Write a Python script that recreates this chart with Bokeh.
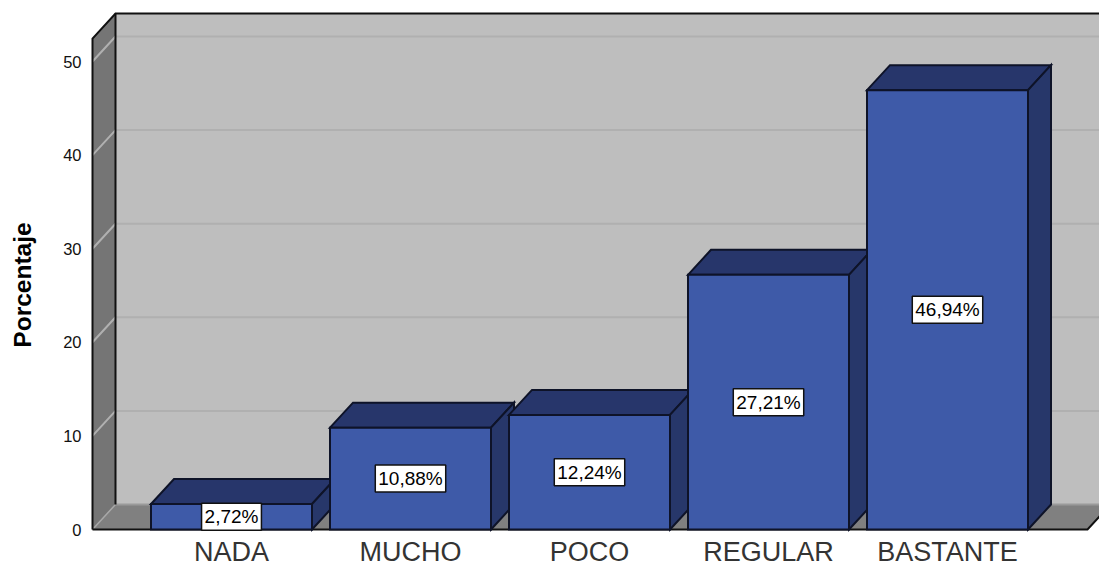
from bokeh.core.properties import value
from bokeh.embed import file_html
from bokeh.models import ColumnDataSource, FixedTicker, Range1d
from bokeh.plotting import figure
from bokeh.resources import INLINE

categories = ["NADA", "MUCHO", "POCO", "REGULAR", "BASTANTE"]
percentages = [2.72, 10.88, 12.24, 27.21, 46.94]
value_labels = ["2,72%", "10,88%", "12,24%", "27,21%", "46,94%"]
y_ticks = [0, 10, 20, 30, 40, 50]

# Scale: pixels per axis unit and the size of the pseudo-3D extrusion
PX_X = 179.0
PX_Y = 9.36
DX = 23 / PX_X
DY = 25 / PX_Y
HALF_BAR = 80.5 / PX_X
WALL_TOP = 52.45

# Layout of the plotting frame in page pixels
W, H = 1099, 565
FRAME_L, FRAME_T = 90, 4
CAT0_PX, ZERO_PX = 231, 529

x_range = Range1d((FRAME_L - CAT0_PX) / PX_X, (W - CAT0_PX) / PX_X)
y_range = Range1d((ZERO_PX - H) / PX_Y, (ZERO_PX - FRAME_T) / PX_Y)

p = figure(width=W, height=H, x_range=x_range, y_range=y_range,
           x_axis_location=None,
           output_backend="svg", toolbar_location=None,
           min_border_left=FRAME_L, min_border_right=0,
           min_border_top=FRAME_T, min_border_bottom=0,
           background_fill_color="white", border_fill_color="white",
           outline_line_color=None)
p.grid.visible = False

p.yaxis.ticker = FixedTicker(ticks=y_ticks)
p.yaxis.axis_line_color = None
p.yaxis.major_tick_line_color = None
p.yaxis.minor_tick_line_color = None
p.yaxis.major_label_standoff = 3
p.yaxis.major_label_text_font = "Liberation Sans"
p.yaxis.major_label_text_font_size = "16.5px"
p.yaxis.major_label_text_color = "#111111"
p.yaxis.axis_label = "Porcentaje"
p.yaxis.axis_label_text_font = "Liberation Sans"
p.yaxis.axis_label_text_font_style = "bold"
p.yaxis.axis_label_text_font_size = "24.5px"
p.yaxis.axis_label_text_color = "#000000"
p.yaxis.axis_label_standoff = 24

x_left = x_range.start + 2 / PX_X
x_right = x_left + (1087 - 92) / PX_X

# Room walls: floor, back wall and left side wall
p.patch([x_left, x_left + DX, x_right + DX, x_right], [0, DY, DY, 0],
        fill_color="#808080", line_color=None)
p.patch([x_left + DX, x_right + DX, x_right + DX, x_left + DX],
        [DY, DY, WALL_TOP + DY, WALL_TOP + DY],
        fill_color="#BEBEBE", line_color=None)
p.patch([x_left, x_left + DX, x_left + DX, x_left],
        [0, DY, WALL_TOP + DY, WALL_TOP],
        fill_color="#757575", line_color=None)

# Gridlines wrap from the side wall onto the back wall
grid = y_ticks[1:]
p.multi_line([[x_left, x_left + DX, x_right + DX] for _ in grid],
             [[v, v + DY, v + DY] for v in grid],
             line_color="#B0B0B0", line_width=2)
p.line([x_left, x_left + DX], [0, DY], line_color="#A8A8A8", line_width=1.5)
p.line([x_left + DX, x_right + DX], [DY, DY], line_color="#9A9A9A", line_width=2)

# Room edges
edge = dict(line_color="#111111", line_width=2, line_join="miter")
p.line([x_left, x_left, x_left + DX, x_right + DX],
       [0, WALL_TOP, WALL_TOP + DY, WALL_TOP + DY], **edge)
p.line([x_left + DX, x_left + DX], [DY, WALL_TOP + DY], **edge)
p.line([x_left, x_right, x_right + DX], [0, 0, DY], **edge)

# Bars: top, side and front faces, left to right so each covers the previous
for i, v in enumerate(percentages):
    l, r = i - HALF_BAR, i + HALF_BAR
    outline = dict(line_color="#0E1328", line_width=2, line_join="miter")
    p.patch([l, l + DX, r + DX, r], [v, v + DY, v + DY, v],
            fill_color="#27366B", **outline)
    p.patch([r, r + DX, r + DX, r], [0, DY, v + DY, v],
            fill_color="#27376A", **outline)
    p.quad(left=[l], right=[r], bottom=[0], top=[v],
           fill_color="#3E5AA8", **outline)

# Value labels in white boxes at the middle of each front face
src = ColumnDataSource(data=dict(
    x=list(range(len(categories))),
    y=[v / 2 for v in percentages],
    label=value_labels,
))
p.text(x="x", y="y", text="label", source=src,
       text_font=value("Liberation Sans"), text_font_size="19px",
       text_color="#000000", text_align="center", text_baseline="middle",
       background_fill_color="white", border_line_color="#111111",
       border_line_width=1.5, padding=3)

# Category names sit under the baseline of the room
cat_src = ColumnDataSource(data=dict(
    x=list(range(len(categories))),
    y=[0] * len(categories),
    label=categories,
))
p.text(x="x", y="y", text="label", source=cat_src, y_offset=22,
       text_font=value("Liberation Sans"), text_font_size="27px",
       text_color="#333333", text_align="center", text_baseline="middle")

open("out.html", "w").write(file_html(p, INLINE))
